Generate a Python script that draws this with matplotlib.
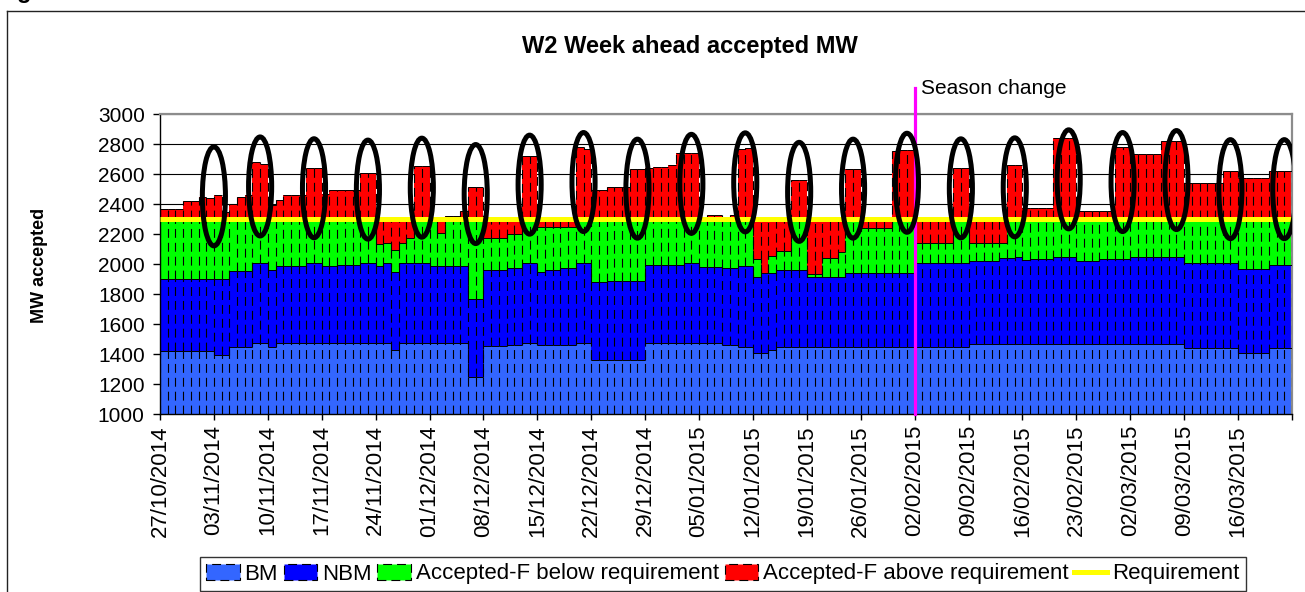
"""W2 week-ahead accepted MW.

Daily stacked bars (BM / NBM / Accepted-F below and above the requirement)
from 27/10/2014 to 22/03/2015, with the requirement line, the season-change
marker and the weekly peaks circled.

Output: out.png (1305 x 592 px)
"""

import matplotlib
matplotlib.use("Agg")
import matplotlib.pyplot as plt
import numpy as np
from matplotlib.lines import Line2D
from matplotlib.patches import Ellipse, Patch


# ---------------------------------------------------------------------------
# Data -- MW per day, first day 27/10/2014 (one row = one week)
# ---------------------------------------------------------------------------

bm_mw = [
    1420, 1420, 1420, 1420, 1420, 1420, 1420,
    1395, 1395, 1450, 1450, 1450, 1475, 1475,
    1450, 1475, 1475, 1475, 1475, 1475, 1475,
    1475, 1475, 1475, 1475, 1475, 1475, 1475,
    1475, 1475, 1430, 1475, 1475, 1475, 1475,
    1475, 1475, 1475, 1475, 1475, 1245, 1245,
    1455, 1455, 1455, 1460, 1460, 1475, 1475,
    1460, 1460, 1460, 1460, 1460, 1475, 1475,
    1360, 1360, 1360, 1360, 1360, 1360, 1360,
    1475, 1475, 1475, 1475, 1475, 1475, 1475,
    1475, 1475, 1475, 1460, 1460, 1450, 1450,
    1410, 1410, 1430, 1445, 1445, 1445, 1445,
    1445, 1445, 1445, 1445, 1445, 1445, 1445,
    1445, 1445, 1445, 1445, 1445, 1445, 1445,
    1445, 1445, 1445, 1445, 1445, 1445, 1445,
    1465, 1465, 1465, 1465, 1465, 1465, 1465,
    1465, 1465, 1465, 1465, 1465, 1465, 1465,
    1465, 1465, 1465, 1465, 1465, 1465, 1465,
    1465, 1465, 1465, 1465, 1465, 1465, 1465,
    1440, 1440, 1440, 1440, 1440, 1440, 1440,
    1410, 1410, 1410, 1410, 1440, 1440, 1440,
]

nbm_mw = [
    480, 480, 480, 480, 480, 480, 480,
    505, 505, 505, 505, 505, 530, 530,
    508, 510, 510, 510, 510, 530, 530,
    513, 513, 520, 520, 520, 530, 530,
    515, 530, 515, 530, 530, 530, 530,
    515, 515, 515, 515, 515, 523, 523,
    507, 507, 507, 515, 515, 530, 530,
    485, 502, 502, 515, 515, 530, 530,
    518, 518, 527, 527, 527, 527, 527,
    518, 518, 518, 518, 518, 530, 530,
    507, 507, 507, 515, 515, 537, 537,
    506, 532, 512, 515, 515, 515, 515,
    471, 471, 471, 471, 471, 493, 493,
    493, 493, 493, 493, 497, 497, 497,
    559, 559, 559, 559, 559, 559, 559,
    557, 557, 557, 557, 573, 573, 584,
    562, 568, 568, 568, 584, 584, 584,
    555, 555, 555, 566, 566, 566, 566,
    580, 580, 580, 580, 580, 580, 580,
    564, 564, 564, 564, 564, 564, 564,
    557, 557, 557, 557, 553, 553, 553,
]

below_req_mw = [
    400, 400, 400, 400, 400, 400, 400,
    400, 400, 345, 345, 345, 295, 295,
    342, 315, 315, 315, 315, 295, 295,
    312, 312, 305, 305, 305, 295, 295,
    145, 137, 150, 138, 168, 295, 295,
    310, 214, 310, 310, 310, 532, 532,
    213, 213, 213, 222, 222, 295, 295,
    305, 288, 288, 275, 275, 295, 295,
    422, 422, 413, 413, 413, 413, 413,
    307, 307, 307, 307, 307, 295, 295,
    318, 318, 318, 325, 325, 313, 313,
    115, 0, 111, 127, 127, 340, 340,
    19, 19, 122, 122, 166, 362, 362,
    300, 300, 300, 300, 358, 358, 358,
    138, 138, 138, 138, 138, 296, 296,
    120, 120, 120, 120, 104, 262, 251,
    273, 267, 267, 267, 251, 251, 251,
    280, 280, 280, 269, 269, 269, 269,
    255, 255, 255, 255, 255, 255, 255,
    296, 296, 296, 296, 296, 296, 296,
    333, 333, 333, 333, 307, 307, 307,
]

above_req_mw = [
    70, 70, 70, 120, 120, 150, 140,
    160, 45, 100, 150, 160, 380, 370,
    95, 125, 160, 160, 160, 340, 340,
    170, 195, 195, 195, 195, 310, 310,
    155, 148, 195, 147, 117, 353, 353,
    0, 86, 22, 22, 53, 211, 211,
    110, 110, 110, 88, 88, 420, 420,
    35, 35, 35, 35, 35, 478, 464,
    193, 193, 211, 211, 211, 331, 331,
    338, 349, 349, 360, 438, 438, 438,
    16, 27, 27, 0, 27, 464, 471,
    259, 348, 237, 203, 203, 260, 260,
    355, 355, 252, 252, 208, 331, 331,
    52, 52, 52, 52, 456, 462, 462,
    148, 148, 148, 148, 148, 338, 338,
    148, 148, 148, 148, 148, 360, 360,
    71, 71, 71, 71, 538, 538, 538,
    53, 53, 53, 53, 53, 478, 478,
    431, 431, 431, 431, 522, 522, 522,
    238, 238, 238, 238, 238, 320, 320,
    271, 271, 271, 271, 320, 320, 320,
]

requirement_mw = 2300

week_labels = [
    "27/10/2014", "03/11/2014", "10/11/2014", "17/11/2014", "24/11/2014",
    "01/12/2014", "08/12/2014", "15/12/2014", "22/12/2014", "29/12/2014",
    "05/01/2015", "12/01/2015", "19/01/2015", "26/01/2015", "02/02/2015",
    "09/02/2015", "16/02/2015", "23/02/2015", "02/03/2015", "09/03/2015",
    "16/03/2015",
]

season_change_date = "02/02/2015"

# day index at which each weekly peak is circled
circled_days = [7, 13, 20, 27, 34, 41, 48, 55, 62, 69, 76,
                83, 90, 97, 104, 111, 118, 125, 132, 139, 146]

series_names = ["BM", "NBM", "Accepted-F below requirement",
                "Accepted-F above requirement"]
series_colors = ["#3366FF", "#0000FF", "#00FF00", "#FF0000"]


# ---------------------------------------------------------------------------
# Plot
# ---------------------------------------------------------------------------

W, H = 1305, 592
DASH = (0, (8, 4.5))
Y_MIN, Y_MAX = 1000, 3000


def px(x, y):
    """Pixel position (from top-left) -> figure fraction."""
    return x / W, 1 - y / H


def _dashed_borders(ax, bottom, top):
    """One dashed vertical per day boundary, like Excel's bar borders."""
    lo_pad = np.r_[bottom[0], bottom, bottom[-1]]
    hi_pad = np.r_[top[0], top, top[-1]]
    lo = np.minimum(lo_pad[:-1], lo_pad[1:])
    hi = np.maximum(hi_pad[:-1], hi_pad[1:])
    lo = np.maximum(lo, Y_MIN)
    edges = np.arange(len(bottom) + 1)
    keep = hi > lo
    ax.vlines(edges[keep], lo[keep], hi[keep], colors="black", lw=0.8,
              linestyles=[DASH], zorder=3)


def main() -> None:
    plt.rcParams["font.family"] = ["Liberation Sans", "DejaVu Sans"]

    fig = plt.figure(figsize=(W / 100, H / 100), dpi=100)
    ax = fig.add_axes([160 / W, 1 - 414 / H, 1132 / W, 300 / H])

    series = [np.asarray(s, dtype=float) for s in
              (bm_mw, nbm_mw, below_req_mw, above_req_mw)]
    n_days = len(bm_mw)
    days = np.arange(n_days)

    # ---- stacked daily bars -------------------------------------------
    bottom = np.zeros(n_days)
    for vals, color in zip(series, series_colors):
        ax.bar(days, vals, width=1.0, align="edge", bottom=bottom,
               color=color, edgecolor="none", zorder=2)
        top = bottom + vals
        _dashed_borders(ax, bottom, top)
        keep = vals > 0
        ax.hlines(top[keep], days[keep], days[keep] + 1, colors="black",
                  lw=0.7, zorder=3)
        bottom = top
    totals = bottom

    # ---- requirement line ---------------------------------------------
    ax.hlines(requirement_mw, 0, n_days, color="#FFFF00", lw=3.6, zorder=4)

    # ---- circled weekly peaks -----------------------------------------
    for d in circled_days:
        peak = totals[max(d - 2, 0):d + 1].max()
        yc = 0.3 * peak + 1713
        ax.add_patch(Ellipse((d, yc), width=3.0, height=660, fill=False,
                             ec="black", lw=3.6, zorder=6))

    # ---- season change marker -----------------------------------------
    sc_day = week_labels.index(season_change_date) * 7
    ax.plot([sc_day, sc_day], [Y_MIN, 3175], color="#FF00FF", lw=2.3,
            clip_on=False, zorder=5)
    ax.text(sc_day + 0.8, 3170, "Season change", fontsize=15,
            ha="left", va="center", clip_on=False)

    # ---- axes ------------------------------------------------------------
    ax.set_xlim(0, n_days)
    ax.set_ylim(Y_MIN, Y_MAX)
    ax.set_yticks(np.arange(Y_MIN, Y_MAX + 1, 200))
    ax.tick_params(axis="y", labelsize=15, length=5, width=1, pad=6)
    ax.set_xticks(np.arange(0, n_days + 1, 7))
    ax.set_xticklabels(week_labels + [""], rotation=90, fontsize=16)
    ax.tick_params(axis="x", length=4.5, width=1, pad=3.5)
    ax.yaxis.grid(True, color="black", lw=0.8)
    ax.set_axisbelow(True)
    for side in ("top", "right"):
        ax.spines[side].set_color("#8c8c8c")
        ax.spines[side].set_linewidth(1.6)
    for side in ("left", "bottom"):
        ax.spines[side].set_linewidth(1.0)

    # ---- titles ----------------------------------------------------------
    fig.text(*px(690, 46), "W2 Week ahead accepted MW", fontsize=17,
             fontweight="bold", ha="center", va="center")
    fig.text(*px(40, 265), "MW accepted", fontsize=13, fontweight="bold",
             rotation=90, ha="center", va="center")
    # tail of a caption cut off at the top of the screenshot
    fig.text(17 / W, 1 + 1.7 / H, "g", fontsize=17, fontweight="bold",
             ha="left", va="baseline")

    # ---- legend ----------------------------------------------------------
    handles = [Patch(facecolor=c, edgecolor="black", linewidth=0.8,
                     linestyle=DASH, label=n)
               for c, n in zip(series_colors, series_names)]
    handles.append(Line2D([], [], color="#FFFF00", lw=3.6, label="Requirement"))
    leg = fig.legend(handles=handles, loc="center", ncol=5,
                     bbox_to_anchor=px(723, 574), fontsize=16,
                     frameon=True, fancybox=False, edgecolor="black",
                     handlelength=1.5, handleheight=0.7, handletextpad=0.22,
                     columnspacing=0.26, borderpad=0.3)
    leg.get_frame().set_linewidth(1.0)

    # ---- chart border (left and top edges in view) ----------------------
    fig.add_artist(Line2D([7 / W, 7 / W], [0, 1 - 10.5 / H],
                          color="#222222", lw=1.0))
    fig.add_artist(Line2D([7 / W, 1], [1 - 10.5 / H, 1 - 10.5 / H],
                          color="#222222", lw=1.0))

    fig.savefig("out.png", dpi=100)
    plt.close(fig)


if __name__ == "__main__":
    main()
